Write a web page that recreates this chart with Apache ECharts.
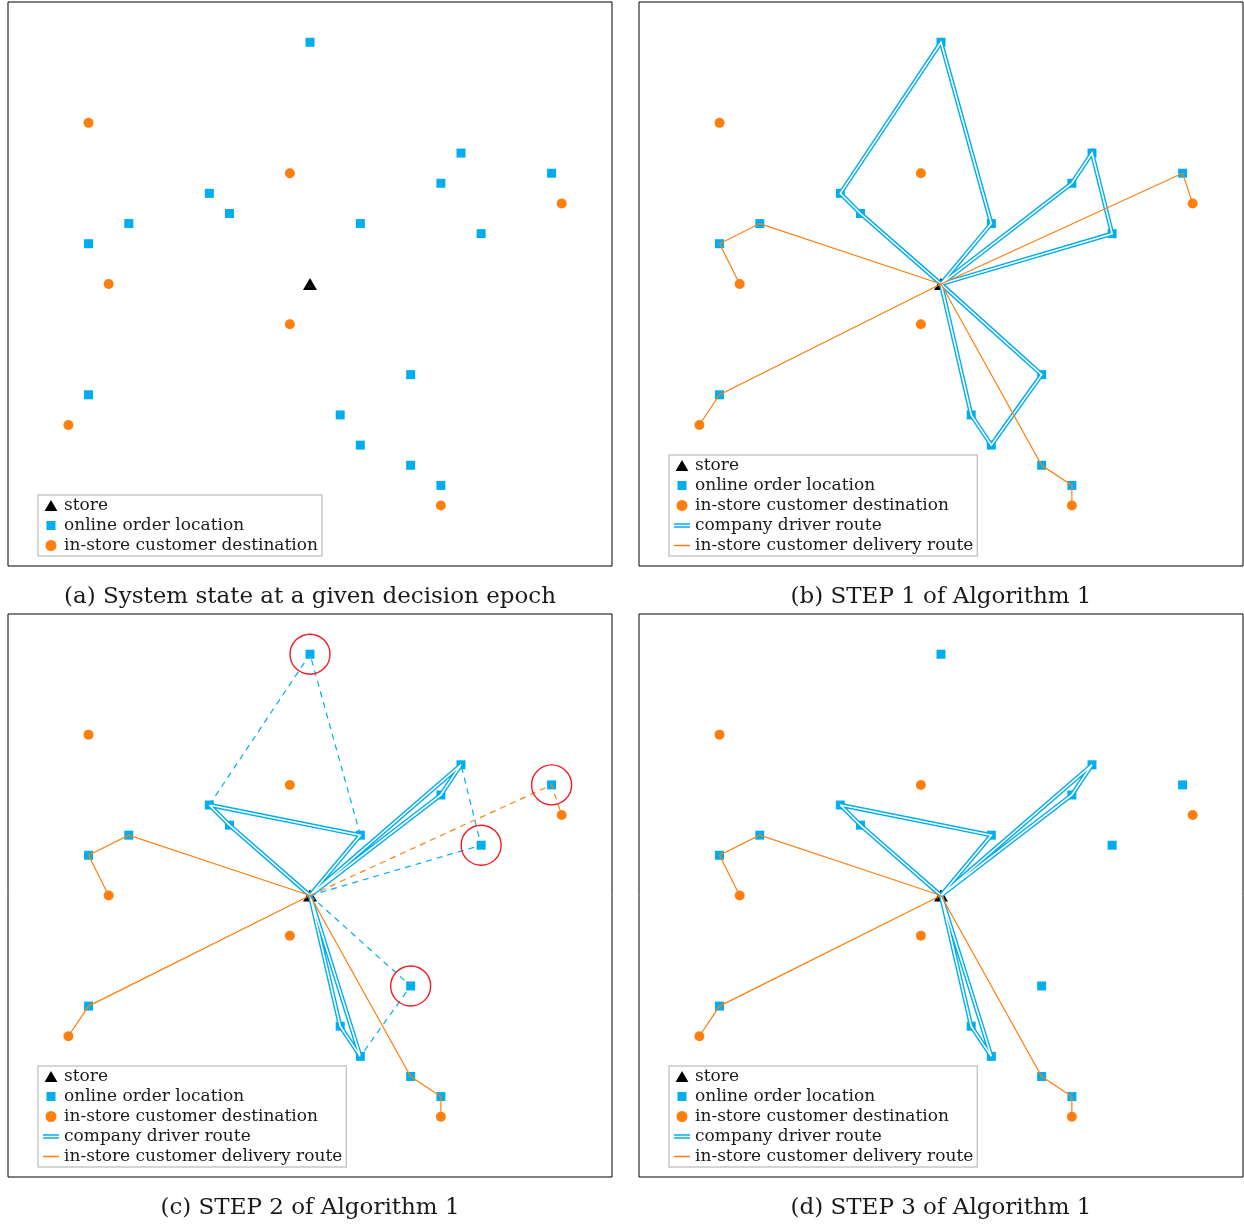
<!DOCTYPE html>
<html>
<head>
<meta charset="utf-8">
<script src="https://cdn.jsdelivr.net/npm/echarts@6/dist/echarts.min.js"></script>
<style>
  html, body { margin: 0; padding: 0; background: #fff; }
  #chart { width: 1244px; height: 1224px; }
</style>
</head>
<body>
<div id="chart"></div>
<script>
// 位置数据 (grid units)
const storeLocation = [[15, 14]]
const onlineOrders = [
  [15, 26], [22.5, 20.5], [21.5, 19], [27, 19.5], [10, 18.5], [11, 17.5], [6, 17], [4, 16],
  [17.5, 17], [23.5, 16.5], [4, 8.5], [20, 9.5], [16.5, 7.5], [17.5, 6], [20, 5], [21.5, 4]
]
const inStoreDestinations = [[4, 22], [14, 19.5], [27.5, 18], [5, 14], [14, 12], [3, 7], [21.5, 3]]

// STEP 1 routes
const step1DriverRoutes = [
  [[15, 14], [11, 17.5], [10, 18.5], [15, 26], [17.5, 17], [15, 14]],
  [[15, 14], [21.5, 19], [22.5, 20.5], [23.5, 16.5], [15, 14]],
  [[15, 14], [16.5, 7.5], [17.5, 6], [20, 9.5], [15, 14]]
]
const step1CustomerRoutes = [
  [[15, 14], [6, 17], [4, 16], [5, 14]],
  [[15, 14], [27, 19.5], [27.5, 18]],
  [[15, 14], [4, 8.5], [3, 7]],
  [[15, 14], [20, 5], [21.5, 4], [21.5, 3]]
]

// STEP 2 / STEP 3 routes
const keptDriverRoutes = [
  [[15, 14], [11, 17.5], [10, 18.5], [17.5, 17], [15, 14]],
  [[15, 14], [21.5, 19], [22.5, 20.5], [15, 14]],
  [[15, 14], [16.5, 7.5], [17.5, 6], [15, 14]]
]
const keptCustomerRoutes = [
  [[15, 14], [6, 17], [4, 16], [5, 14]],
  [[15, 14], [4, 8.5], [3, 7]],
  [[15, 14], [20, 5], [21.5, 4], [21.5, 3]]
]
const droppedDriverLegs = [
  [[10, 18.5], [15, 26], [17.5, 17]],
  [[15, 14], [23.5, 16.5], [22.5, 20.5]],
  [[15, 14], [20, 9.5], [17.5, 6]]
]
const droppedCustomerLegs = [
  [[15, 14], [27, 19.5], [27.5, 18]]
]
const removedOrders = [[15, 26], [27, 19.5], [23.5, 16.5], [20, 9.5]]

const captions = [
  '(a) System state at a given decision epoch',
  '(b) STEP 1 of Algorithm 1',
  '(c) STEP 2 of Algorithm 1',
  '(d) STEP 3 of Algorithm 1'
]

const BLUE = '#00aeef'
const ORANGE = '#ff7f0e'
const FONT = 'DejaVu Serif'

const panels = [
  { left: 8, top: 2, height: 564, legendTop: 495, driver: [], customer: [], full: false },
  { left: 639, top: 2, height: 564, legendTop: 455, driver: step1DriverRoutes, customer: step1CustomerRoutes, full: true },
  { left: 8, top: 614, height: 563, legendTop: 1066, driver: keptDriverRoutes, customer: keptCustomerRoutes, full: true, dropped: true },
  { left: 639, top: 614, height: 563, legendTop: 1066, driver: keptDriverRoutes, customer: keptCustomerRoutes, full: true }
]

const myChart = echarts.init(document.getElementById('chart'))

const grids = [], xAxes = [], yAxes = [], series = [], legends = [], texts = []

const lineSeries = (i, data, name, color, width, z, type) => ({
  type: 'line',
  name: name,
  xAxisIndex: i,
  yAxisIndex: i,
  data: data,
  symbol: 'none',
  silent: true,
  z: z,
  itemStyle: { color: color },
  lineStyle: { color: color, width: width, type: type || 'solid', join: 'miter', miterLimit: 3, opacity: 1 }
})

// 图例图标样式 (不继承 series 边框)
const iconStyle = (c) => ({ color: c, borderColor: c, borderWidth: 0, opacity: 1 })

panels.forEach((p, i) => {
  grids.push({
    left: p.left, top: p.top, width: 604, height: p.height,
    show: true, borderColor: '#000', borderWidth: 1, backgroundColor: '#fff'
  })
  xAxes.push({ type: 'value', gridIndex: i, min: 0, max: 30, show: false })
  yAxes.push({ type: 'value', gridIndex: i, min: 0, max: 28, show: false })

  series.push({
    type: 'scatter', name: 'online order location', xAxisIndex: i, yAxisIndex: i,
    data: onlineOrders, symbol: 'rect', symbolSize: 9, itemStyle: { color: BLUE, opacity: 1 }, z: 2, silent: true
  })
  series.push({
    type: 'scatter', name: 'in-store customer destination', xAxisIndex: i, yAxisIndex: i,
    data: inStoreDestinations, symbol: 'circle', symbolSize: 10, itemStyle: { color: ORANGE, opacity: 1 }, z: 2, silent: true
  })
  series.push({
    type: 'scatter', name: 'store', xAxisIndex: i, yAxisIndex: i,
    data: storeLocation, symbol: 'triangle', symbolSize: [14, 12], itemStyle: { color: '#000', opacity: 1 }, z: 2, silent: true
  })

  // 双线: 蓝色宽线 + 白色细线
  p.driver.forEach(r => {
    series.push(lineSeries(i, r, 'company driver route', BLUE, 4.4, 3))
    series.push(lineSeries(i, r, 'driver route gap', '#fff', 1.6, 4))
  })
  p.customer.forEach(r => {
    series.push(lineSeries(i, r, 'in-store customer delivery route', ORANGE, 1.2, 5))
  })

  if (p.dropped) {
    droppedDriverLegs.forEach(r => series.push(lineSeries(i, r, 'dropped driver leg', BLUE, 1.2, 5, [6, 5])))
    droppedCustomerLegs.forEach(r => series.push(lineSeries(i, r, 'dropped customer leg', ORANGE, 1.2, 5, [6, 5])))
    series.push({
      type: 'scatter', name: 'removed order', xAxisIndex: i, yAxisIndex: i,
      data: removedOrders, symbol: 'circle', symbolSize: 40, z: 6, silent: true,
      itemStyle: { color: 'rgba(0,0,0,0)', borderColor: '#ee1c25', borderWidth: 1.4, opacity: 1 }
    })
  }

  const items = [
    { name: 'store', icon: 'path://M7,0L14,12L0,12Z', itemStyle: iconStyle('#000') },
    { name: 'online order location', icon: 'path://M0,0L0,0M16,11L16,11M3.5,1H12.5V10H3.5Z', itemStyle: iconStyle(BLUE) },
    { name: 'in-store customer destination', icon: 'circle', itemStyle: iconStyle(ORANGE) }
  ]
  if (p.full) {
    items.push({ name: 'company driver route', icon: 'path://M0,0H16V1.5H0Z M0,3H16V4.5H0Z', itemStyle: iconStyle(BLUE) })
    items.push({ name: 'in-store customer delivery route', icon: 'path://M0,0H16V1.5H0Z', itemStyle: iconStyle(ORANGE) })
  }
  legends.push({
    data: items,
    orient: 'vertical',
    left: p.left + 30,
    top: p.legendTop,
    z: 10,
    padding: [2, 4, 2, 5],
    itemGap: 3,
    itemWidth: 16,
    itemHeight: 11,
    selectedMode: false,
    inactiveColor: BLUE,
    backgroundColor: '#fff',
    borderColor: '#c8c8c8',
    borderWidth: 1.5,
    borderRadius: 0,
    textStyle: { fontFamily: FONT, fontSize: 17, color: '#1a1a1a', padding: [0, 0, 0, 0] }
  })

  texts.push({
    type: 'text',
    x: p.left + 302,
    y: p.top + p.height + 31,
    style: {
      text: captions[i], fontFamily: FONT, fontSize: 23, fill: '#1a1a1a',
      align: 'center', verticalAlign: 'middle'
    }
  })
})

myChart.setOption({
  animation: false,
  backgroundColor: '#fff',
  grid: grids,
  xAxis: xAxes,
  yAxis: yAxes,
  legend: legends,
  series: series,
  graphic: texts
})
window.addEventListener('resize', myChart.resize)
</script>
</body>
</html>
